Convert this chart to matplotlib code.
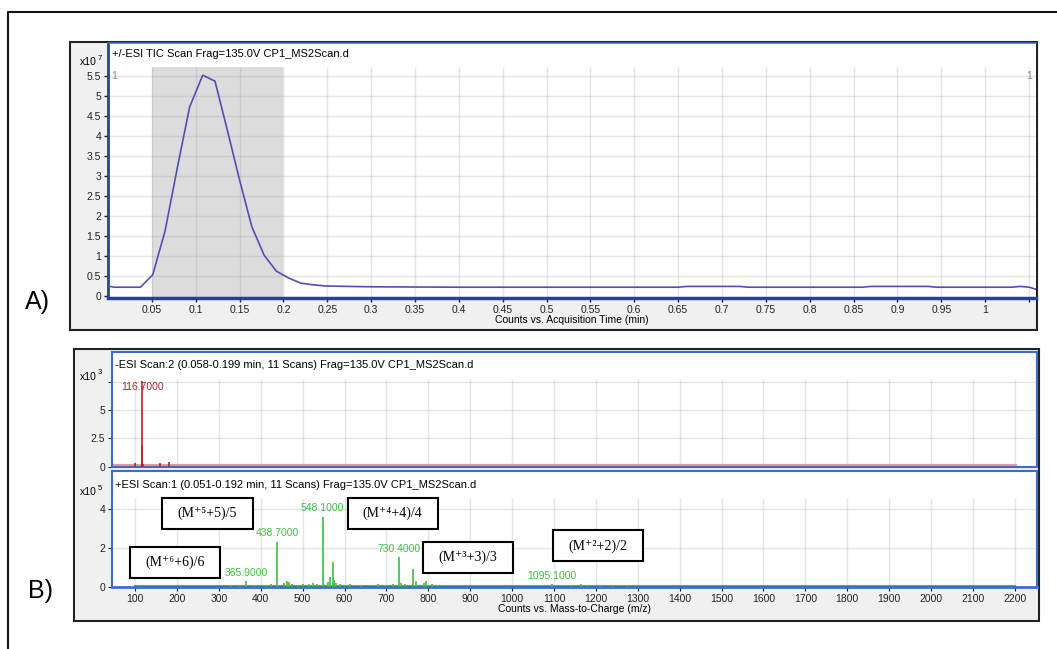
import matplotlib
matplotlib.use("Agg")
import matplotlib.pyplot as plt
from matplotlib.patches import Rectangle
from matplotlib.lines import Line2D

W, H = 1057, 649

# --- data -------------------------------------------------------------
# A) TIC trace, counts x10^7 vs acquisition time (min)
tic_time = [0.0, 0.007, 0.037, 0.051, 0.065, 0.079, 0.093, 0.108, 0.122,
            0.136, 0.150, 0.164, 0.178, 0.192, 0.206, 0.220, 0.234, 0.248,
            0.30, 0.40, 0.50, 0.60, 0.65, 0.66, 0.72, 0.73, 0.86, 0.87,
            0.935, 0.945, 1.03, 1.04, 1.05, 1.058]
tic_counts = [0.25, 0.22, 0.22, 0.53, 1.62, 3.2, 4.72, 5.52, 5.37,
              4.15, 2.9, 1.73, 1.02, 0.62, 0.45, 0.32, 0.28, 0.25,
              0.23, 0.22, 0.22, 0.22, 0.22, 0.24, 0.24, 0.22, 0.22, 0.24,
              0.24, 0.22, 0.22, 0.24, 0.22, 0.17]
tic_shade = [0.05, 0.2]
tic_xticks = [0.05, 0.1, 0.15, 0.2, 0.25, 0.3, 0.35, 0.4, 0.45, 0.5, 0.55,
              0.6, 0.65, 0.7, 0.75, 0.8, 0.85, 0.9, 0.95, 1.0, 1.05]
tic_xlabels = ["0.05", "0.1", "0.15", "0.2", "0.25", "0.3", "0.35", "0.4",
               "0.45", "0.5", "0.55", "0.6", "0.65", "0.7", "0.75", "0.8",
               "0.85", "0.9", "0.95", "1", ""]
tic_yticks = [0, 0.5, 1, 1.5, 2, 2.5, 3, 3.5, 4, 4.5, 5, 5.5]
tic_ylabels = ["0", "0.5", "1", "1.5", "2", "2.5", "3", "3.5", "4", "4.5",
               "5", "5.5"]

# B) negative scan, counts x10^3
neg_mz = [101, 116.0, 116.7, 120, 159, 180]
neg_int = [0.3, 1.8, 7.6, 0.2, 0.35, 0.4]
neg_base = [45, 2200]
neg_yticks = [0, 2.5, 5, 7.5]
neg_ylabels = ["0", "2.5", "5", ""]

# B) positive scan, counts x10^5
pos_mz = [330, 350, 365.9, 385, 415, 425, 438.7, 455, 462, 468, 475, 490,
          500, 515, 525, 535, 548.1, 560, 566, 572, 575, 580, 590, 600, 612,
          640, 680, 700, 715, 730.4, 735, 745, 764, 770, 790, 795, 810, 820,
          1095.1, 1140, 1165, 1180, 1210, 1240, 1275]
pos_int = [0.05, 0.1, 0.29, 0.08, 0.1, 0.15, 2.32, 0.2, 0.3, 0.25, 0.15, 0.1,
           0.12, 0.15, 0.2, 0.15, 3.61, 0.25, 0.5, 1.27, 0.35, 0.2, 0.15, 0.1,
           0.12, 0.1, 0.12, 0.1, 0.15, 1.53, 0.2, 0.12, 0.91, 0.3, 0.2, 0.3,
           0.15, 0.1, 0.12, 0.08, 0.12, 0.1, 0.08, 0.1, 0.08]
pos_labels = [(365.9, 0.29, "365.9000"), (438.7, 2.32, "438.7000"),
              (548.1, 3.61, "548.1000"), (730.4, 1.53, "730.4000"),
              (1095.1, 0.12, "1095.1000")]
pos_base = [100, 2200]
pos_yticks = [0, 2, 4]
pos_ylabels = ["0", "2", "4"]

charge_boxes = [("(M\u207a\u2075+5)/5", 273, 3.77),
                ("(M\u207a\u2076+6)/6", 196, 1.25),
                ("(M\u207a\u2074+4)/4", 715, 3.77),
                ("(M\u207a\u00b3+3)/3", 894, 1.50),
                ("(M\u207a\u00b2+2)/2", 1204, 2.10)]

mz_ticks = list(range(100, 2201, 100))
mz_labels = [str(v) for v in mz_ticks]

# --- style ------------------------------------------------------------
narrow = ["Liberation Sans Narrow", "Liberation Sans", "DejaVu Sans"]
serif = ["Liberation Serif", "DejaVu Serif"]
plt.rcParams["font.family"] = narrow
plt.rcParams["font.size"] = 7.5

navy = "#27409a"
blue = "#3d6cc6"
gridc = (0.6, 0.6, 0.6, 0.25)
title_fs = 8
tick_fs = 7.5


def fx(x):
    return x / W


def fy(y):
    return 1 - y / H


def axes_px(fig, x0, y0, x1, y1):
    return fig.add_axes([fx(x0), fy(y1), (x1 - x0) / W, (y1 - y0) / H])


def exponent(fig, x, y, power):
    # "x10" with a small raised power, as in the instrument software
    fig.text(fx(x), fy(y), "x10", fontsize=7.5, va="center")
    fig.text(fx(x + 18), fy(y - 4), power, fontsize=5.5, va="center")


fig = plt.figure(figsize=(W / 100, H / 100), dpi=100)

# outer border and panel frames
fig.add_artist(Line2D([fx(8), fx(8), fx(1057)], [fy(649), fy(12), fy(12)],
                      color="#111111", lw=1.5, transform=fig.transFigure))
for x0, y0, x1, y1 in [(70, 42, 1037, 330), (74, 349, 1039, 621)]:
    fig.add_artist(Rectangle((fx(x0), fy(y1)), (x1 - x0) / W, (y1 - y0) / H,
                             facecolor="#f0f0f0", edgecolor="#222222", lw=1.5,
                             transform=fig.transFigure, zorder=0))

fig.text(fx(37), fy(302), "A)", fontsize=18, family="Liberation Sans",
         ha="center", va="center")
fig.text(fx(40), fy(591), "B)", fontsize=18, family="Liberation Sans",
         ha="center", va="center")

# --- panel A ----------------------------------------------------------
axA = axes_px(fig, 108, 43, 1036, 298)
axA.set_xlim(0, 1.058)
axA.set_ylim(-0.05, 6.325)
grid_top = 5.725
axA.fill_between(tic_shade, -0.05, grid_top, color="#dcdcdc", lw=0, zorder=0)
axA.vlines(tic_xticks, -0.05, grid_top, color=gridc, lw=1, zorder=1)
axA.hlines(tic_yticks[1:], 0, 1.058, color=gridc, lw=1, zorder=1)
axA.plot(tic_time, tic_counts, color="#5050b4", lw=1.2, zorder=3)
axA.set_xticks(tic_xticks)
axA.set_xticklabels(tic_xlabels)
axA.set_yticks(tic_yticks)
axA.set_yticklabels(tic_ylabels)
axA.tick_params(direction="out", length=3, width=1, colors="#222222",
                labelsize=tick_fs, pad=2)
axA.set_xlabel("Counts vs. Acquisition Time (min)", fontsize=7.5, labelpad=0)
axA.spines["left"].set_color(navy)
axA.spines["left"].set_linewidth(2)
axA.spines["bottom"].set_color(navy)
axA.spines["bottom"].set_linewidth(2.5)
axA.spines["top"].set_color(blue)
axA.spines["top"].set_linewidth(1.2)
axA.spines["right"].set_visible(False)
axA.text(0.004, 1.0 - 11 / 255, "+/-ESI TIC Scan Frag=135.0V CP1_MS2Scan.d",
         transform=axA.transAxes, fontsize=title_fs, va="center", ha="left")
axA.text(0.004, 5.5, "1", color="#888888", fontsize=7.5, va="center")
axA.text(1.053, 5.5, "1", color="#888888", fontsize=7.5, va="center",
         ha="right")
exponent(fig, 80, 62, "7")

# --- panel B, negative scan -------------------------------------------
axN = axes_px(fig, 112, 352, 1037, 467)
axN.set_xlim(45, 2253)
axN.set_ylim(-0.03, 10.12)
axN.vlines(mz_ticks, -0.03, 7.7, color=gridc, lw=1, zorder=1)
axN.hlines(neg_yticks[1:], 45, 2253, color=gridc, lw=1, zorder=1)
axN.plot(neg_base, [0.06, 0.06], color="#e29a9a", lw=3, zorder=2)
axN.vlines(neg_mz, 0, neg_int, color="#a82a2a", lw=1.2, zorder=3)
axN.annotate("116.7000", (116.7, 7.6), xytext=(0, -1),
             textcoords="offset points", ha="center", va="top",
             color="#a82a2a", fontsize=7.5)
axN.set_xticks(mz_ticks)
axN.set_xticklabels([])
axN.tick_params(axis="x", length=0)
axN.set_yticks(neg_yticks)
axN.set_yticklabels(neg_ylabels)
axN.tick_params(axis="y", direction="out", length=3, colors="#222222",
                labelsize=tick_fs, pad=2)
for s in axN.spines.values():
    s.set_color(blue)
    s.set_linewidth(1.5)
axN.text(0.003, 1.0 - 13 / 115,
         "-ESI Scan:2 (0.058-0.199 min, 11 Scans) Frag=135.0V CP1_MS2Scan.d",
         transform=axN.transAxes, fontsize=title_fs, va="center", ha="left")
exponent(fig, 80, 377, "3")

# --- panel B, positive scan -------------------------------------------
axP = axes_px(fig, 112, 471, 1037, 587)
axP.set_xlim(45, 2253)
axP.set_ylim(-0.015, 5.96)
axP.vlines(mz_ticks, -0.015, 4.57, color=gridc, lw=1, zorder=1)
axP.hlines(pos_yticks[1:], 45, 2253, color=gridc, lw=1, zorder=1)
axP.plot(pos_base, [0.03, 0.03], color="#3cbf3c", lw=1.5, zorder=2)
axP.vlines(pos_mz, 0, pos_int, color="#3cbf3c", lw=1.2, zorder=3)
for mz, h, lab in pos_labels:
    axP.annotate(lab, (mz, h), xytext=(0, 2.5), textcoords="offset points",
                 ha="center", va="bottom", color="#3cbf3c", fontsize=7.5)
for lab, mz, y in charge_boxes:
    axP.add_patch(Rectangle((mz - 107.5, y - 0.8), 215, 1.6,
                            facecolor="white", edgecolor="black", lw=1.5,
                            zorder=5))
    axP.text(mz, y, lab, family=serif, fontsize=10, ha="center",
             va="center", zorder=6)
axP.set_xticks(mz_ticks)
axP.set_xticklabels(mz_labels)
axP.set_yticks(pos_yticks)
axP.set_yticklabels(pos_ylabels)
axP.tick_params(direction="out", length=3, colors="#222222",
                labelsize=tick_fs, pad=2)
axP.set_xlabel("Counts vs. Mass-to-Charge (m/z)", fontsize=7.5, labelpad=0)
for s in axP.spines.values():
    s.set_color(blue)
    s.set_linewidth(1.5)
axP.spines["bottom"].set_linewidth(2)
axP.text(0.003, 1.0 - 14 / 116,
         "+ESI Scan:1 (0.051-0.192 min, 11 Scans) Frag=135.0V CP1_MS2Scan.d",
         transform=axP.transAxes, fontsize=title_fs, va="center", ha="left")
exponent(fig, 80, 492, "5")

fig.savefig("out.png", dpi=100)
